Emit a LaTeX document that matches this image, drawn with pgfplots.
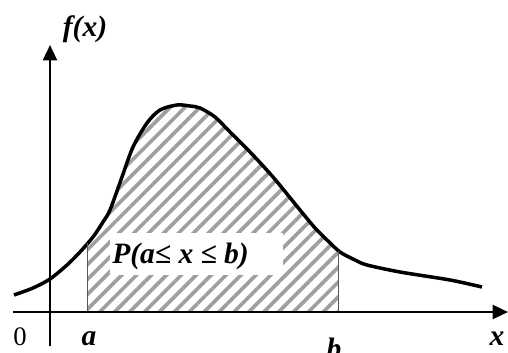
\documentclass[border=0pt]{standalone}
\usepackage{fontspec}
\setmainfont{Liberation Serif}
\usepackage{pgfplots}
\pgfplotsset{compat=1.18}
\usepgfplotslibrary{fillbetween}
\usetikzlibrary{arrows.meta,patterns.meta}

\begin{document}
\begin{tikzpicture}
\begin{axis}[
    scale only axis,
    width=12.7cm, height=8.8cm,
    xmin=0, xmax=508, ymin=0, ymax=352,
    hide axis,
    clip=false,
]
% density curve
\addplot[name path=f, smooth, line width=2.5pt, black] coordinates {
    (14,57) (33,64) (50,73) (67,87) (80,100) (93,115) (103,130) (110,142)
    (122,175) (133,205) (147,229) (160,242) (177,247) (190,246) (200,244)
    (215,235) (230,220) (250,200) (273,175) (300,142) (315,124) (327,112)
    (340,100) (355,92) (367,87) (400,80) (450,72) (482,65)
};
\path[name path=base] (axis cs:0,40) -- (axis cs:508,40);
\addplot[draw=none, pattern={Lines[angle=45, distance=7.5pt, line width=2.6pt]},
    pattern color=gray!75]
    fill between[of=f and base, soft clip={domain=87:338}];

% bounds a and b
\addplot[gray!70!black, line width=0.7pt] coordinates {(87,40) (87,109)};
\addplot[gray!70!black, line width=0.7pt] coordinates {(338,40) (338,101)};

% axes
\draw[line width=1.8pt, -{Triangle[length=11pt,width=10pt]}] (axis cs:13,40) -- (axis cs:508,40);
\draw[line width=1.8pt, -{Triangle[length=11pt,width=10pt]}] (axis cs:50,6) -- (axis cs:50,307);

% label box
\fill[white] (axis cs:110,77) rectangle (axis cs:283,119);
\node[anchor=west, inner sep=0pt, font=\fontsize{21}{24}\selectfont\bfseries\itshape]
    at (axis cs:112,96) {P(a≤ x ≤ b)};

\node[font=\fontsize{21}{24}\selectfont\bfseries\itshape] at (axis cs:85,323) {f(x)};
\node[font=\fontsize{19}{22}\selectfont] at (axis cs:20,15) {0};
\node[font=\fontsize{21}{24}\selectfont\bfseries\itshape] at (axis cs:89,13) {a};
\node[font=\fontsize{21}{24}\selectfont\bfseries\itshape] at (axis cs:334,4) {b};
\node[font=\fontsize{21}{24}\selectfont\bfseries\itshape] at (axis cs:497,13) {x};
\end{axis}
\pgfresetboundingbox
\useasboundingbox (0,0) rectangle (12.7cm,8.8cm);
\end{tikzpicture}
\end{document}
